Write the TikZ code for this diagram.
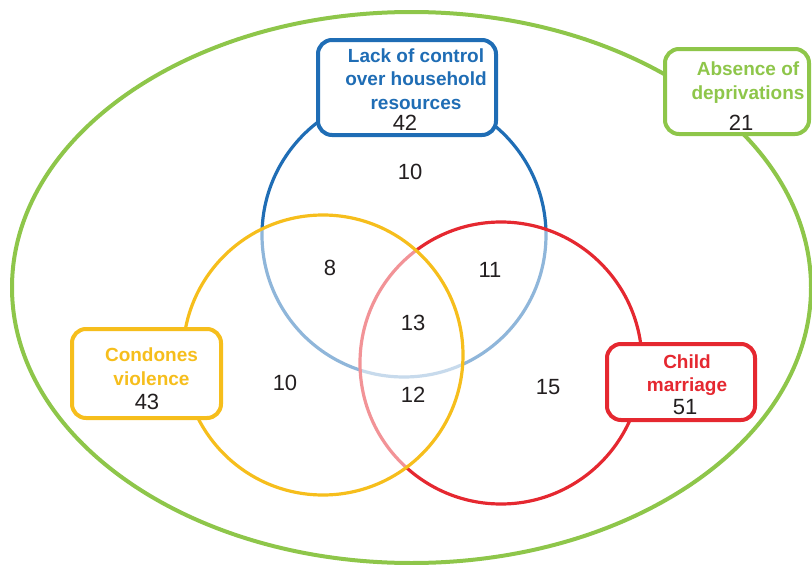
\documentclass[tikz,border=0pt]{standalone}
\usepackage{fontspec}
\setmainfont{Liberation Sans}
\usetikzlibrary{positioning}

\definecolor{ctrlblue}{HTML}{1F6DB5}
\definecolor{violyellow}{HTML}{F6BE1C}
\definecolor{marrred}{HTML}{E52830}
\definecolor{nodepgreen}{HTML}{8EC64A}
\definecolor{countgray}{HTML}{231F20}

\tikzset{
  setbox/.style={draw=#1, line width=4pt, rounded corners=14pt, fill=white, inner sep=0pt},
  setlabel/.style={text=#1, font=\bfseries\fontsize{19}{23.5}\selectfont, align=center, inner sep=0pt},
  count/.style={text=countgray, font=\fontsize{22}{24}\selectfont, inner sep=0pt},
  setring/.style={draw=#1, line width=3.2pt},
}

\begin{document}
\begin{tikzpicture}[x=1pt,y=-1pt]
        \useasboundingbox (0,0) rectangle (812,565);
        % whole population
        \draw[nodepgreen, line width=4pt] (411.5,287.5) ellipse (399.5 and 275.5);
        % the three deprivations
        \draw[setring=ctrlblue] (404,235) circle (142);
        \draw[setring=marrred, fill=white, fill opacity=0.5] (501,363) circle (141);
        \draw[setring=violyellow, fill=white, fill opacity=0.5] (323,355) circle (140);
        % boxes
        \node[setbox=ctrlblue, minimum width=178pt, minimum height=95pt] (ctrlbox) at (407,87.5) {};
        \node[setbox=nodepgreen, minimum width=144pt, minimum height=85pt] (nodepbox) at (737,91.5) {};
        \node[setbox=violyellow, minimum width=149pt, minimum height=89pt] (violbox) at (146.5,373.5) {};
        \node[setbox=marrred, minimum width=148pt, minimum height=76pt] (marrbox) at (681,382) {};
        \node[setlabel=ctrlblue] (ctrllabel) at (416,79) {Lack of control\\over household\\resources};
        \node[setlabel=nodepgreen] (nodeplabel) at (748,82.5) {Absence of\\deprivations};
        \node[setlabel=violyellow] (viollabel) at (151.5,366.5) {Condones\\violence};
        \node[setlabel=marrred] (marrlabel) at (687,375) {Child\\marriage};
        \node[count] (ctrltotal) at (405,122.5) {42};
        \node[count] (nodeptotal) at (741,122.5) {21};
        \node[count] (violtotal) at (147,402) {43};
        \node[count] (marrtotal) at (685,407) {51};
        % region counts
        \foreach \name/\pos/\n in {ctrlonly/{410,172}/10, ctrlviol/{330,268}/8, ctrlmarr/{490,270}/11,
                                   allthree/{413,323}/13, violonly/{285,383}/10, violmarr/{413,395}/12,
                                   marronly/{548,387}/15} {
            \node[count] (\name) at (\pos) {\n};
        }
    \end{tikzpicture}
\end{document}
